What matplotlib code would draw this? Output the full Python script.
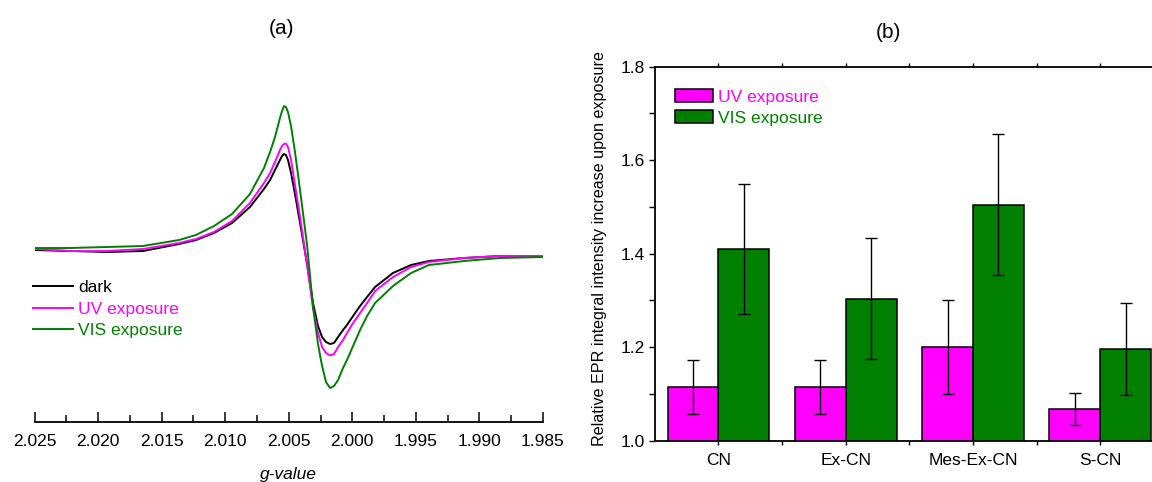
import numpy as np
import matplotlib
matplotlib.use("Agg")
import matplotlib.pyplot as plt
from matplotlib.patches import Patch
from matplotlib.ticker import MultipleLocator, FormatStrFormatter

plt.rcParams['font.family'] = ['Liberation Sans', 'DejaVu Sans']
plt.rcParams['font.size'] = 12.5

# --- (a) EPR spectra, first derivative, arbitrary units ---
g_value = [2.02500, 2.02221, 2.01930, 2.01646, 2.01363, 2.01230, 2.01088, 2.00946,
           2.00805, 2.00695, 2.00647, 2.00608, 2.00569, 2.00553, 2.00537, 2.00522,
           2.00506, 2.00482, 2.00451, 2.00411, 2.00356, 2.00309, 2.00270, 2.00238,
           2.00207, 2.00175, 2.00144, 2.00112, 2.00073, 2.00042, 1.99994, 1.99939,
           1.99884, 1.99821, 1.99680, 1.99538, 1.99397, 1.99121, 1.98838, 1.98500]
epr_dark = [0.00, -0.01, -0.02, -0.01, 0.06, 0.10, 0.17, 0.27, 0.43,
            0.61, 0.70, 0.80, 0.90, 0.94, 0.96, 0.95, 0.90, 0.77, 0.56,
            0.27, -0.14, -0.53, -0.76, -0.87, -0.92, -0.94, -0.93, -0.87, -0.80,
            -0.75, -0.66, -0.56, -0.47, -0.37, -0.23, -0.15, -0.11, -0.08, -0.06,
            -0.06]
epr_uv = [0.01, -0.01, -0.01, 0.01, 0.07, 0.11, 0.18, 0.29, 0.47,
          0.67, 0.77, 0.88, 1.00, 1.04, 1.06, 1.065, 1.03, 0.90, 0.65,
          0.33, -0.15, -0.58, -0.83, -0.97, -1.03, -1.055, -1.04, -0.97, -0.90,
          -0.83, -0.73, -0.63, -0.53, -0.41, -0.27, -0.17, -0.12, -0.08, -0.06,
          -0.06]
epr_vis = [0.02, 0.02, 0.03, 0.04, 0.10, 0.15, 0.24, 0.36, 0.56,
           0.82, 0.98, 1.13, 1.32, 1.39, 1.44, 1.43, 1.38, 1.24, 0.98,
           0.60, 0.05, -0.57, -0.94, -1.16, -1.32, -1.38, -1.36, -1.30, -1.18,
           -1.10, -0.96, -0.80, -0.66, -0.53, -0.36, -0.23, -0.15, -0.11, -0.08,
           -0.07]

# --- (b) relative integral intensity ---
samples = ['CN', 'Ex-CN', 'Mes-Ex-CN', 'S-CN']
uv_rel = [1.115, 1.115, 1.200, 1.068]
uv_err = [0.058, 0.058, 0.100, 0.035]
vis_rel = [1.410, 1.304, 1.505, 1.196]
vis_err = [0.140, 0.130, 0.150, 0.098]

MAGENTA = '#FF00FF'
GREEN = '#007F00'
LINE_GREEN = '#008000'

fig = plt.figure(figsize=(11.52, 4.82), dpi=100)

# panel (a)
ax1 = fig.add_axes([0.02995, 0.1251, 0.4414, 0.7504])
ax1.plot(g_value, epr_dark, color='black', lw=1.4, label='dark')
ax1.plot(g_value, epr_uv, color=MAGENTA, lw=1.4, label='UV exposure')
ax1.plot(g_value, epr_vis, color=LINE_GREEN, lw=1.4, label='VIS exposure')
ax1.set_xlim(2.025, 1.985)
ax1.set_ylim(-1.717, 1.9)
for s in ['left', 'right', 'top']:
    ax1.spines[s].set_visible(False)
ax1.spines['bottom'].set_linewidth(1.3)
ax1.set_yticks([])
ax1.xaxis.set_major_locator(MultipleLocator(0.005))
ax1.xaxis.set_minor_locator(MultipleLocator(0.0025))
ax1.xaxis.set_major_formatter(FormatStrFormatter('%.3f'))
ax1.tick_params(axis='x', which='major', direction='in', length=7.2, width=1.1, pad=8.5)
ax1.tick_params(axis='x', which='minor', direction='in', length=4.8, width=1.1)
ax1.set_xlabel('g-value', style='italic')
ax1.xaxis.set_label_coords(0.5, -0.125)
ax1.legend(loc='upper left', bbox_to_anchor=(-0.002, 0.391), frameon=False,
           handlelength=2.3, handletextpad=0.25, labelspacing=0.36,
           borderpad=0, borderaxespad=0,
           labelcolor=['black', MAGENTA, LINE_GREEN])
fig.text(281 / 1152, 1 - 28 / 482, '(a)', ha='center', va='center', fontsize=15)

# panel (b)
ax2 = fig.add_axes([0.5684, 0.0857, 0.442, 0.776])
x = np.arange(1, len(samples) + 1)
ax2.bar(x - 0.2, uv_rel, width=0.4, color=MAGENTA, edgecolor='black', linewidth=1.1,
        zorder=2)
ax2.bar(x + 0.2, vis_rel, width=0.4, color=GREEN, edgecolor='black', linewidth=1.1,
        zorder=2)
ax2.errorbar(x - 0.2, uv_rel, yerr=uv_err, fmt='none', ecolor='black', elinewidth=1,
             capsize=4.3, capthick=1, zorder=3)
ax2.errorbar(x + 0.2, vis_rel, yerr=vis_err, fmt='none', ecolor='black', elinewidth=1,
             capsize=4.3, capthick=1, zorder=3)
ax2.set_xlim(0.5, 4.5)
ax2.set_ylim(1.0, 1.8)
ax2.set_xticks(x)
ax2.set_xticklabels(samples)
ax2.set_xticks(x[:-1] + 0.5, minor=True)
ax2.yaxis.set_major_locator(MultipleLocator(0.2))
ax2.yaxis.set_minor_locator(MultipleLocator(0.1))
ax2.yaxis.set_major_formatter(FormatStrFormatter('%.1f'))
for s in ax2.spines.values():
    s.set_linewidth(1.3)
ax2.tick_params(axis='y', which='both', direction='out', length=4, width=1, pad=3.5)
ax2.tick_params(axis='x', which='both', direction='out', length=3, width=1, pad=6,
                top=True)
ax2.set_ylabel('Relative EPR integral intensity increase upon exposure', fontsize=11.6)
ax2.yaxis.set_label_coords(-0.094, 0.514)
handles = [Patch(facecolor=MAGENTA, edgecolor='black', linewidth=1.1),
           Patch(facecolor=GREEN, edgecolor='black', linewidth=1.1)]
ax2.legend(handles, ['UV exposure', 'VIS exposure'], loc='upper left',
           bbox_to_anchor=(0.0395, 0.94), frameon=False, handlelength=2.2,
           handleheight=0.8, handletextpad=0.3, labelspacing=0.3, borderpad=0,
           borderaxespad=0, labelcolor=[MAGENTA, LINE_GREEN])
fig.text(888 / 1152, 1 - 32 / 482, '(b)', ha='center', va='center', fontsize=15)

fig.savefig('out.png', dpi=100)
